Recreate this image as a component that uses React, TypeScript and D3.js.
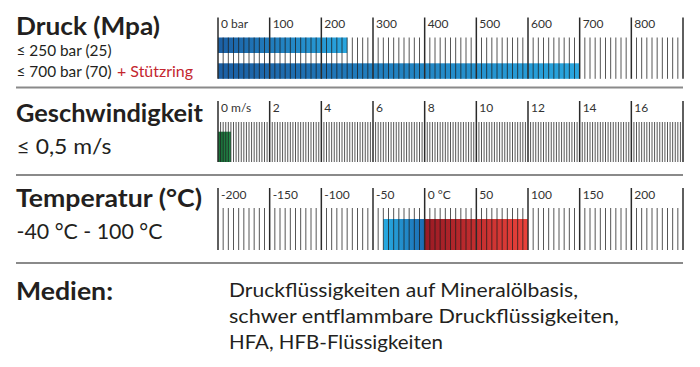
import React from "react";
import * as d3 from "d3";

// ---------- data ----------
const pressureDomain = [0, 900];
const pressureMajor = [0, 100, 200, 300, 400, 500, 600, 700, 800, 900];
const pressureLabels = ["0 bar", "100", "200", "300", "400", "500", "600", "700", "800", ""];
const pressureMinorStep = 10;
const pressureBars = [250, 700];

const speedDomain = [0, 18];
const speedMajor = [0, 2, 4, 6, 8, 10, 12, 14, 16, 18];
const speedLabels = ["0 m/s", "2", "4", "6", "8", "10", "12", "14", "16", ""];
const speedMinorStep = 0.1;
const speedBar = [0, 0.5];

const tempDomain = [-200, 250];
const tempMajor = [-200, -150, -100, -50, 0, 50, 100, 150, 200, 250];
const tempLabels = ["-200", "-150", "-100", "-50", "0 °C", "50", "100", "150", "200", ""];
const tempMinorStep = 5;
const tempCold = [-40, 0];
const tempHot = [0, 100];

const mediaLines = [
  "Druckflüssigkeiten auf Mineralölbasis,",
  "schwer entflammbare Druckflüssigkeiten,",
  "HFA, HFB-Flüssigkeiten",
];

// ---------- layout ----------
const W = 700;
const H = 367;
const X0 = 218;
const X1 = 683;
const FONT = "Lato, 'Open Sans', sans-serif";
const TXT = "#231f20";

function minorValues(domain: number[], step: number, major: number[]) {
  const n = Math.round((domain[1] - domain[0]) / step);
  const out: number[] = [];
  for (let i = 0; i <= n; i++) {
    const v = domain[0] + i * step;
    if (!major.some((m) => Math.abs(m - v) < step / 100)) out.push(v);
  }
  return out;
}

type Scale = d3.ScaleLinear<number, number>;

function Ruler({ scale, major, labels, minor, majorTop, minorTop, bottom, labelY }: {
  scale: Scale; major: number[]; labels: string[]; minor: number[];
  majorTop: number; minorTop: number; bottom: number; labelY: number;
}) {
  return (
    <g>
      {minor.map((v, i) => (
        <line key={"m" + i} x1={scale(v)} x2={scale(v)} y1={minorTop} y2={bottom}
          stroke="#1e1e1e" strokeWidth={1} strokeOpacity={0.75} />
      ))}
      {major.map((v, i) => (
        <line key={"M" + i} x1={scale(v)} x2={scale(v)} y1={majorTop} y2={bottom}
          stroke="#2a2a2a" strokeWidth={1.5} />
      ))}
      {major.map((v, i) => (
        <text key={"L" + i} x={scale(v) + 3} y={labelY} fontFamily={FONT}
          fontSize={12} fill="#333">{labels[i]}</text>
      ))}
    </g>
  );
}

export default function App() {
  const xp = d3.scaleLinear().domain(pressureDomain).range([X0, X1]);
  const xs = d3.scaleLinear().domain(speedDomain).range([X0, X1]);
  const xt = d3.scaleLinear().domain(tempDomain).range([X0, X1]);

  const pBarY = [37.5, 63.3];
  const pBarH = 15.5;

  return (
    <svg width={W} height={H} style={{ position: "absolute", left: 0, top: 0, background: "#fff" }}>
      <defs>
        <linearGradient id="gBlue" x1="0" x2="1" y1="0" y2="0">
          <stop offset="0" stopColor="#1b5fa4" />
          <stop offset="1" stopColor="#29a6df" />
        </linearGradient>
        <linearGradient id="gCold" x1="0" x2="1" y1="0" y2="0">
          <stop offset="0" stopColor="#27abe2" />
          <stop offset="1" stopColor="#1c6cb2" />
        </linearGradient>
        <linearGradient id="gHot" x1="0" x2="1" y1="0" y2="0">
          <stop offset="0" stopColor="#9a1a24" />
          <stop offset="1" stopColor="#ea423a" />
        </linearGradient>
        <linearGradient id="gGreen" x1="0" x2="1" y1="0" y2="0">
          <stop offset="0" stopColor="#1a6e38" />
          <stop offset="1" stopColor="#24894a" />
        </linearGradient>
      </defs>

      {/* separators */}
      {[87.5, 175, 263].map((y, i) => (
        <line key={i} x1={16} x2={X1} y1={y} y2={y} stroke="#8a8a8a" strokeWidth={2} />
      ))}

      {/* Pressure */}
      <text x={16} y={35} fontFamily={FONT} fontWeight={700} fontSize={24} fill={TXT}
        textLength={144} lengthAdjust="spacingAndGlyphs">Druck (Mpa)</text>
      <text x={16.5} y={55.5} fontFamily={FONT} fontSize={16} fill={TXT}
        textLength={95} lengthAdjust="spacingAndGlyphs">≤ 250 bar (25)</text>
      <text x={16.5} y={76.5} fontFamily={FONT} fontSize={16} fill={TXT}
        textLength={95} lengthAdjust="spacingAndGlyphs">≤ 700 bar (70)</text>
      <text x={117} y={76.5} fontFamily={FONT} fontSize={16} fill="#c4262e"
        textLength={76} lengthAdjust="spacingAndGlyphs">+ Stützring</text>
      {pressureBars.map((v, i) => (
        <rect key={i} x={xp(0)} y={pBarY[i]} width={xp(v) - xp(0)} height={pBarH} fill="url(#gBlue)" />
      ))}
      <Ruler scale={xp} major={pressureMajor} labels={pressureLabels}
        minor={minorValues(pressureDomain, pressureMinorStep, pressureMajor)}
        majorTop={17.5} minorTop={37.5} bottom={78.8} labelY={28} />

      {/* Speed */}
      <text x={16} y={121.5} fontFamily={FONT} fontWeight={700} fontSize={24} fill={TXT}
        textLength={187} lengthAdjust="spacingAndGlyphs">Geschwindigkeit</text>
      <text x={16.5} y={153.5} fontFamily={FONT} fontSize={21} fill={TXT}
        textLength={95} lengthAdjust="spacingAndGlyphs">≤ 0,5 m/s</text>
      <rect x={xs(speedBar[0])} y={131.7} width={xs(speedBar[1]) - xs(speedBar[0])} height={162 - 131.7}
        fill="url(#gGreen)" />
      <Ruler scale={xs} major={speedMajor} labels={speedLabels}
        minor={minorValues(speedDomain, speedMinorStep, speedMajor)}
        majorTop={101} minorTop={122} bottom={162} labelY={112} />

      {/* Temperature */}
      <text x={16} y={206.5} fontFamily={FONT} fontWeight={700} fontSize={24} fill={TXT}
        textLength={186} lengthAdjust="spacingAndGlyphs">Temperatur (°C)</text>
      <text x={16.5} y={238.5} fontFamily={FONT} fontSize={21} fill={TXT}
        textLength={146} lengthAdjust="spacingAndGlyphs">-40 °C - 100 °C</text>
      <rect x={xt(tempCold[0])} y={219} width={xt(tempCold[1]) - xt(tempCold[0])} height={250 - 219}
        fill="url(#gCold)" />
      <rect x={xt(tempHot[0])} y={219} width={xt(tempHot[1]) - xt(tempHot[0])} height={250 - 219}
        fill="url(#gHot)" />
      <Ruler scale={xt} major={tempMajor} labels={tempLabels}
        minor={minorValues(tempDomain, tempMinorStep, tempMajor)}
        majorTop={188} minorTop={208} bottom={250} labelY={199} />

      {/* Media */}
      <text x={16} y={300} fontFamily={FONT} fontWeight={700} fontSize={24} fill={TXT}
        textLength={97} lengthAdjust="spacingAndGlyphs">Medien:</text>
      {mediaLines.map((s, i) => (
        <text key={i} x={229} y={297 + i * 26} fontFamily={FONT} fontSize={20} fill={TXT}
          textLength={[349, 390, 214][i]} lengthAdjust="spacingAndGlyphs">{s}</text>
      ))}
    </svg>
  );
}
